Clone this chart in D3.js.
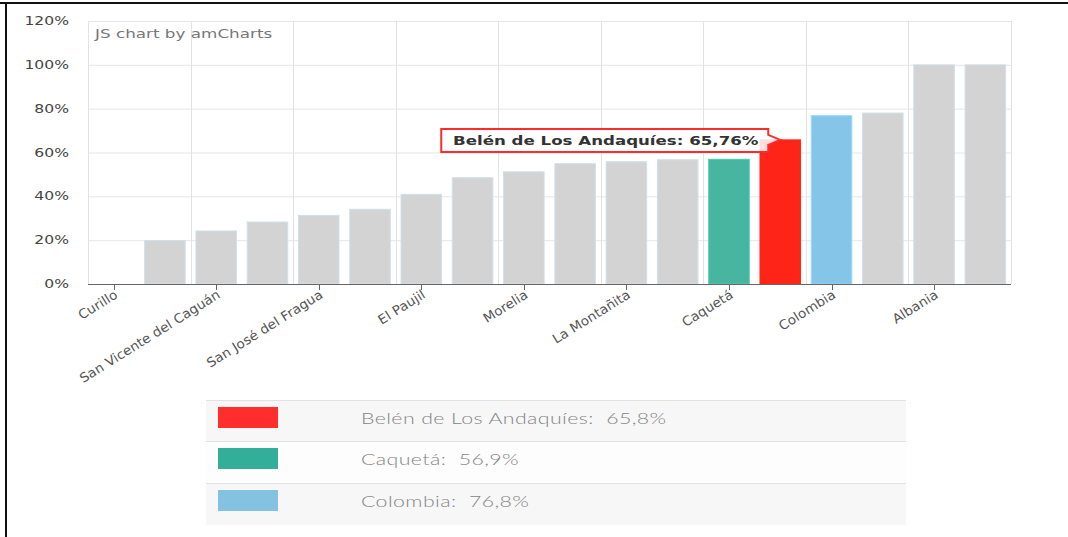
<!DOCTYPE html>
<html><head><meta charset="utf-8">
<script src="https://cdn.jsdelivr.net/npm/d3@7"></script>
<style>
html,body{margin:0;padding:0;background:#fff;}
svg{display:block;}
text.pre{white-space:pre;}
</style></head>
<body>
<svg id="c" width="1068" height="537"></svg>
<script>
// ---- data ----
const categories = ["Curillo","Solano","San Vicente del Caguán","Cartagena del Chairá","San José del Fragua","Solita","El Paujil","Milán","Morelia","Puerto Rico","La Montañita","Valparaíso","Caquetá","Belén de Los Andaquíes","Colombia","El Doncello","Albania","Florencia"];
const values = [0,19.8,24.2,28.3,31.3,34.1,40.9,48.5,51.2,54.9,55.8,56.7,56.9,65.76,76.8,78.0,100,100];
const yTicks = [0,20,40,60,80,100,120];
const highlightNames = ["Belén de Los Andaquíes","Caquetá","Colombia"];
const highlightBarColors = ["#ff2418","#47b5a0","#84c5e8"];
const legendColors = ["#ff2d2b","#33ae98","#84c2e2"];
const legendLabels = ["Belén de Los Andaquíes:  65,8%","Caquetá:  56,9%","Colombia:  76,8%"];
const tooltipText = "Belén de Los Andaquíes: 65,76%";
const watermark = "JS chart by amCharts";

const svg = d3.select("#c");
const M = {left:88, right:1011, top:21, bottom:284};

const x = d3.scaleBand().domain(categories).range([M.left, M.right]).paddingInner(0.19).paddingOuter(0.095);
const xb = d3.scaleBand().domain(categories).range([M.left, M.right]).padding(0);
const y = d3.scaleLinear().domain([0,120]).range([M.bottom, M.top]);
const hl = d3.scaleOrdinal().domain(highlightNames).range(highlightBarColors).unknown("#d3d3d3");

// frame lines of screenshot
svg.append("rect").attr("x",0).attr("y",2).attr("width",1068).attr("height",2).attr("fill","#111");
svg.append("rect").attr("x",5).attr("y",3).attr("width",2).attr("height",534).attr("fill","#111");

// grid
const g = svg.append("g");
g.selectAll("line.h").data(yTicks).join("line")
  .attr("x1",M.left).attr("x2",M.right).attr("y1",d=>y(d)+0.5).attr("y2",d=>y(d)+0.5)
  .attr("stroke","#e6e6e6").attr("stroke-width",1);
const vIdx = categories.map((c,i)=>i).filter(i=>i%2===0);
g.selectAll("line.v").data(vIdx).join("line")
  .attr("x1",i=>Math.round(xb(categories[i]))+0.5).attr("x2",i=>Math.round(xb(categories[i]))+0.5)
  .attr("y1",M.top).attr("y2",M.bottom).attr("stroke","#e2e2e2");
g.append("line").attr("x1",M.right+0.5).attr("x2",M.right+0.5).attr("y1",M.top).attr("y2",M.bottom).attr("stroke","#e2e2e2");

// watermark
svg.append("text").attr("transform","translate(95,38) scale(1.4,1)")
  .attr("font-family","DejaVu Sans").attr("font-size",12).attr("fill","#777").text(watermark);

// bars
svg.append("g").selectAll("rect").data(categories.map((c,i)=>({c,v:values[i]})).filter(d=>d.v>0)).join("rect")
  .attr("x",d=>x(d.c)+0.5).attr("width",x.bandwidth()-1)
  .attr("y",d=>y(d.v)).attr("height",d=>y(0)-y(d.v))
  .attr("fill",d=>hl(d.c))
  .attr("stroke",d=>highlightNames.includes(d.c)? d3.color(hl(d.c)).brighter(0.3) : "#cfe0ea").attr("stroke-width",1);

// x axis
const xAxisG = svg.append("g").attr("transform",`translate(0,${M.bottom})`);
xAxisG.append("line").attr("x1",M.left).attr("x2",M.right).attr("y1",0.5).attr("y2",0.5).attr("stroke","#666");
const labIdx = vIdx;
xAxisG.selectAll("line.t").data(labIdx).join("line")
  .attr("x1",i=>Math.round(x(categories[i])+x.bandwidth()/2)+0.5).attr("x2",i=>Math.round(x(categories[i])+x.bandwidth()/2)+0.5)
  .attr("y1",0).attr("y2",6).attr("stroke","#666");
xAxisG.selectAll("text").data(labIdx).join("text")
  .attr("transform",i=>`translate(${x(categories[i])+x.bandwidth()/2+5},${13}) rotate(-32) scale(1.05,1)`)
  .attr("text-anchor","end").attr("font-family","DejaVu Sans").attr("font-size",13).attr("fill","#555")
  .text(i=>categories[i]);

// y axis labels
svg.append("g").selectAll("text").data(yTicks).join("text")
  .attr("transform",d=>`translate(69,${y(d)+4}) scale(1.3,1)`)
  .attr("text-anchor","end").attr("font-family","DejaVu Sans").attr("font-size",12).attr("fill","#444")
  .text(d=>d+"%");

// tooltip
const tipName = highlightNames[0];
const tipX = x(tipName)+x.bandwidth()/2, tipY = y(values[categories.indexOf(tipName)]);
const bx1 = tipX-12, bx0 = tipX-339, by0 = tipY-11, by1 = tipY+12;
svg.append("path")
  .attr("d",`M${bx0},${by0} H${bx1} V${tipY-5} L${tipX},${tipY} L${bx1},${tipY+5} V${by1} H${bx0} Z`)
  .attr("fill","#fff").attr("fill-opacity",0.85).attr("stroke","#ff2a2a").attr("stroke-width",2);
svg.append("text").attr("transform",`translate(${(bx0+bx1)/2+1},${tipY+5}) scale(1.28,1)`)
  .attr("text-anchor","middle").attr("font-family","DejaVu Sans").attr("font-weight","bold").attr("font-size",13).attr("fill","#333")
  .text(tooltipText);

// legend
const rowY = [400,441,483];
const rowH = [41,42,42];
const lg = svg.append("g");
lg.selectAll("rect.bg").data(rowY).join("rect")
  .attr("x",206).attr("width",700).attr("y",d=>d).attr("height",(d,i)=>rowH[i])
  .attr("fill",(d,i)=>i===1?"#fdfdfd":"#f7f7f7");
lg.selectAll("line").data(rowY).join("line")
  .attr("x1",206).attr("x2",906).attr("y1",d=>d+0.5).attr("y2",d=>d+0.5).attr("stroke","#e2e2e2");
lg.selectAll("rect.sw").data(legendColors).join("rect")
  .attr("x",218).attr("width",60).attr("y",(d,i)=>rowY[i]+7).attr("height",21).attr("fill",d=>d);
lg.selectAll("text").data(legendLabels).join("text").attr("class","pre")
  .attr("transform",(d,i)=>`translate(361,${rowY[i]+24}) scale(1.42,1)`)
  .attr("font-family","Lato").attr("font-weight",300).attr("font-size",15).attr("letter-spacing",0.3).attr("fill","#858585")
  .text(d=>d);
</script>
</body></html>
